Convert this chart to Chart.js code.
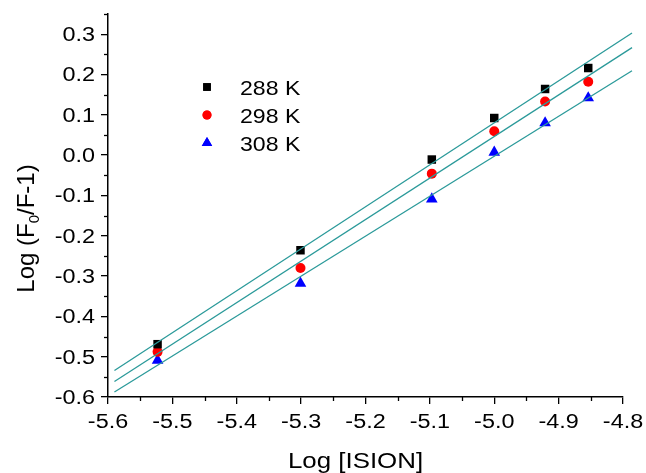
<!DOCTYPE html>
<html>
<head>
<meta charset="utf-8">
<script src="https://cdn.jsdelivr.net/npm/chart.js@4.4.0/dist/chart.umd.min.js"></script>
<style>
  html, body { margin: 0; padding: 0; background: #fff; }
  #wrap { width: 646px; height: 473px; position: relative; }
</style>
</head>
<body>
<div id="wrap"><canvas id="quench"></canvas></div>
<script>
/* Stern-Volmer style plot: Log (F0/F-1) vs Log [ISION] */

const logConc  = [-5.523, -5.301, -5.097, -5.000, -4.921, -4.854];
const temp288  = [-0.469, -0.236, -0.011, 0.092, 0.164, 0.216];
const temp298  = [-0.488, -0.280, -0.046, 0.059, 0.133, 0.182];
const temp308  = [-0.509, -0.318, -0.109, 0.007, 0.080, 0.142];
const fitRange = [-5.59, -4.786];
const seriesLabels = ['288 K', '298 K', '308 K'];
const xTicks = [-5.6, -5.5, -5.4, -5.3, -5.2, -5.1, -5.0, -4.9, -4.8];
const yTicks = [-0.6, -0.5, -0.4, -0.3, -0.2, -0.1, 0.0, 0.1, 0.2, 0.3];

const FONT = 'Arial, "Liberation Sans", sans-serif';
const FIT_COLOR = '#2b9a9a';
const SX = 1.17;   // the source figure is a little wider than tall

// least-squares line through one series, sampled at the fit range ends
function fitLine(xs, ys) {
  const n = xs.length;
  const mx = xs.reduce((a, b) => a + b, 0) / n;
  const my = ys.reduce((a, b) => a + b, 0) / n;
  let sxy = 0, sxx = 0;
  for (let i = 0; i < n; i++) {
    sxy += (xs[i] - mx) * (ys[i] - my);
    sxx += (xs[i] - mx) * (xs[i] - mx);
  }
  const k = sxy / sxx;
  return fitRange.map(x => ({ x: x, y: my + k * (x - mx) }));
}

const pts = ys => logConc.map((x, i) => ({ x: x, y: ys[i] }));

function fitDataset(ys) {
  return {
    type: 'line',
    data: fitLine(logConc, ys),
    borderColor: FIT_COLOR,
    borderWidth: 1.3,
    pointRadius: 0,
    fill: false,
    clip: false,
  };
}

const markers = [
  { style: 'rect',     radius: 6.0, color: '#000000' },
  { style: 'circle',   radius: 5.0, color: '#ff0000' },
  { style: 'triangle', radius: 6.7, color: '#0000ff' },
];

const series = [temp288, temp298, temp308];

const datasets = [];
series.forEach(ys => datasets.push(fitDataset(ys)));
series.forEach((ys, i) => datasets.push({
  type: 'scatter',
  label: seriesLabels[i],
  data: pts(ys),
  pointStyle: markers[i].style,
  pointRadius: markers[i].radius,
  pointBackgroundColor: markers[i].color,
  pointBorderColor: markers[i].color,
  pointBorderWidth: 0,
  showLine: false,
}));

function wideText(ctx, txt, x, y, align, sx) {
  ctx.save();
  ctx.translate(x, y);
  ctx.scale(sx, 1);
  ctx.textAlign = align;
  ctx.fillText(txt, 0, 0);
  ctx.restore();
}

// minor ticks, tick labels, axis titles, legend
const decor = {
  id: 'decor',
  afterDraw(chart) {
    const { ctx, scales: { x, y }, chartArea } = chart;
    ctx.save();
    ctx.strokeStyle = '#000';
    ctx.lineWidth = 1.3;
    for (let i = 0; i < xTicks.length - 1; i++) {
      const px = Math.round(x.getPixelForValue((xTicks[i] + xTicks[i + 1]) / 2)) + 0.5;
      ctx.beginPath();
      ctx.moveTo(px, chartArea.bottom);
      ctx.lineTo(px, chartArea.bottom + 4);
      ctx.stroke();
    }
    for (let i = 0; i < yTicks.length; i++) {
      const py = Math.round(y.getPixelForValue(yTicks[i] + 0.05)) + 0.5;
      ctx.beginPath();
      ctx.moveTo(chartArea.left, py);
      ctx.lineTo(chartArea.left - 4, py);
      ctx.stroke();
    }

    ctx.fillStyle = '#000';
    ctx.textBaseline = 'alphabetic';

    // tick labels
    ctx.font = '20px ' + FONT;
    xTicks.forEach(v => {
      wideText(ctx, v.toFixed(1), x.getPixelForValue(v), 428, 'center', SX);
    });
    yTicks.forEach(v => {
      wideText(ctx, v.toFixed(1), 95, y.getPixelForValue(v) + 7, 'right', SX);
    });

    // x title
    ctx.font = '22.5px ' + FONT;
    wideText(ctx, 'Log [ISION]', 355.5, 468, 'center', SX - 0.02);

    // y title with subscript
    ctx.save();
    ctx.translate(34, 228.5);
    ctx.rotate(-Math.PI / 2);
    const a = 'Log (F', b = '0', c = '/F-1)';
    ctx.font = '24px ' + FONT;
    const wa = ctx.measureText(a).width, wc = ctx.measureText(c).width;
    ctx.font = '15px ' + FONT;
    const wb = ctx.measureText(b).width;
    let cx = -(wa + wb + wc) / 2;
    ctx.textAlign = 'left';
    ctx.font = '24px ' + FONT;
    ctx.fillText(a, cx, 0); cx += wa;
    ctx.font = '15px ' + FONT;
    ctx.fillText(b, cx, 5); cx += wb;
    ctx.font = '24px ' + FONT;
    ctx.fillText(c, cx, 0);
    ctx.restore();

    // legend
    ctx.font = '21px ' + FONT;
    seriesLabels.forEach((lab, i) => {
      const ly = 87 + i * 28;
      ctx.fillStyle = markers[i].color;
      Chart.helpers.drawPoint(ctx, {
        pointStyle: markers[i].style,
        radius: markers[i].radius * 0.9,
        borderWidth: 0,
      }, 207, ly);
      ctx.fill();
      ctx.fillStyle = '#000';
      wideText(ctx, lab, 240, ly + 7.5, 'left', 1.1);
    });
    ctx.restore();
  }
};

const axisCommon = {
  type: 'linear',
  grid: { drawOnChartArea: false, tickLength: 7, color: '#000', lineWidth: 1.3 },
  border: { color: '#000', width: 1.5 },
  ticks: { display: false },
};

new Chart(document.getElementById('quench'), {
  type: 'scatter',
  data: { datasets: datasets },
  plugins: [decor],
  options: {
    responsive: true,
    maintainAspectRatio: false,
    animation: false,
    layout: { padding: { left: 0, top: 14, right: 23, bottom: 0 } },
    plugins: {
      legend: { display: false },
      tooltip: { enabled: false },
    },
    scales: {
      x: Object.assign({}, axisCommon, {
        min: -5.6, max: -4.8,
        afterFit: s => { s.height = 76; },
        afterBuildTicks: s => { s.ticks = xTicks.map(v => ({ value: v })); },
      }),
      y: Object.assign({}, axisCommon, {
        min: -0.6, max: 0.35,
        afterFit: s => { s.width = 108; },
        afterBuildTicks: s => { s.ticks = yTicks.map(v => ({ value: v })); },
      }),
    },
  },
});
</script>
</body>
</html>
